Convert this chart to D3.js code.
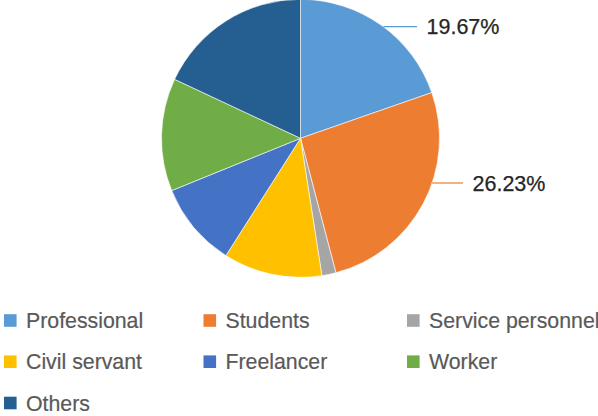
<!DOCTYPE html>
<html>
<head>
<meta charset="utf-8">
<script src="https://cdn.jsdelivr.net/npm/d3@7"></script>
<style>
  body { margin: 0; background: #fff; }
  svg { display: block; }
</style>
</head>
<body>
<div id="chart"></div>
<script>
// data
const categories = ["Professional", "Students", "Service personnel", "Civil servant", "Freelancer", "Worker", "Others"]
const shares = [19.67, 26.23, 1.64, 11.48, 9.84, 13.11, 18.03]
const colors = ["#5b9bd5", "#ed7d31", "#a5a5a5", "#ffc000", "#4472c4", "#70ad47", "#255e91"]
const labelled = ["Professional", "Students"]

const data = categories.map((c, i) => ({name: c, value: shares[i], color: colors[i]}))

const width = 598
const height = 416
const cx = 300.5, cy = 138.3, radius = 139

const svg = d3.select("#chart").append("svg")
              .attr("width", width)
              .attr("height", height)

// 1. pie
const pie = d3.pie().sort(null).value(d => d.value)
const arc = d3.arc().innerRadius(0).outerRadius(radius)
const arcs = pie(data)

const chart = svg.append("g")
                 .attr("transform", `translate(${cx}, ${cy})`)
chart.selectAll(".slice")
     .data(arcs)
     .join("path")
     .attr("class", "slice")
     .attr("d", arc)
     .attr("fill", d => d.data.color)
     .attr("stroke", "#ffffff")
     .attr("stroke-width", 0.6)

// 2. outside labels with leader lines (Excel style, horizontal)
const labelY = {"Professional": 26.7 - cy, "Students": 183 - cy}
const lineEnd = {"Professional": 417 - cx, "Students": 463 - cx}
const labelArcs = arcs.filter(d => labelled.includes(d.data.name))

chart.selectAll(".leader")
     .data(labelArcs)
     .join("line")
     .attr("class", "leader")
     .attr("x1", d => Math.sqrt(radius * radius - labelY[d.data.name] ** 2))
     .attr("x2", d => lineEnd[d.data.name])
     .attr("y1", d => labelY[d.data.name])
     .attr("y2", d => labelY[d.data.name])
     .attr("stroke", d => d.data.color)
     .attr("stroke-width", 1.2)

chart.selectAll(".label")
     .data(labelArcs)
     .join("text")
     .attr("class", "label")
     .attr("x", d => lineEnd[d.data.name] + 9.5)
     .attr("y", d => labelY[d.data.name])
     .attr("dy", "0.36em")
     .attr("font-family", "Liberation Sans, Arial, sans-serif")
     .attr("font-size", "21.5px")
     .attr("fill", "#262626")
     .attr("stroke", "#262626")
     .attr("stroke-width", 0.25)
     .text(d => d.data.value.toFixed(2) + "%")

// 3. legend
const colX = [4, 203.5, 407]
const rowY = [320.5, 361.7, 403]
const legend = svg.append("g")
                  .selectAll(".legend-item")
                  .data(data)
                  .join("g")
                  .attr("class", "legend-item")
                  .attr("transform", (d, i) => `translate(${colX[i % 3]}, ${rowY[Math.floor(i / 3)]})`)
legend.append("rect")
      .attr("x", 0)
      .attr("y", -6.3)
      .attr("width", 12.6)
      .attr("height", 12.6)
      .attr("fill", d => d.color)
legend.append("text")
      .attr("x", 22)
      .attr("y", 0)
      .attr("dy", "0.36em")
      .attr("font-family", "Liberation Sans, Arial, sans-serif")
      .attr("font-size", "21.3px")
      .attr("fill", "#595959")
      .attr("stroke", "#595959")
      .attr("stroke-width", 0.2)
      .text(d => d.name)
</script>
</body>
</html>
